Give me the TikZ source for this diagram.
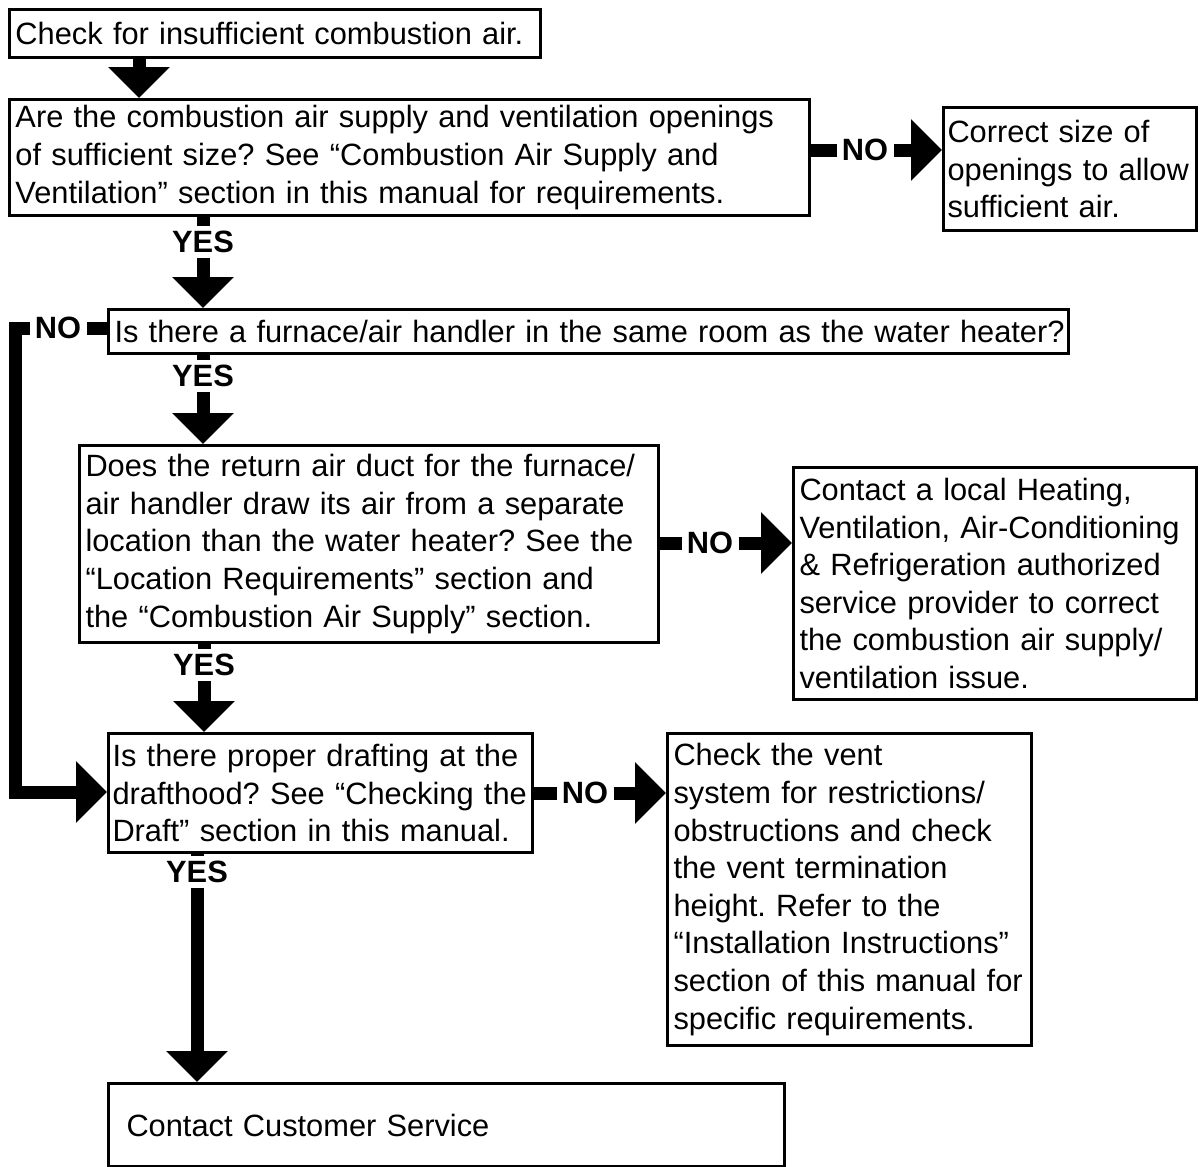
\documentclass[tikz,border=0pt]{standalone}
\usepackage{fontspec}
\setmainfont{Liberation Sans}
\frenchspacing
\hyphenpenalty=10000
\usetikzlibrary{arrows.meta}

\begin{document}
\begin{tikzpicture}[x=0.5pt,y=-0.5pt,>={Triangle[width=30pt,length=15.5pt]},
    box/.style={draw,line width=1.5pt,anchor=north west,align=left,inner xsep=3pt,inner ysep=1pt,
      font=\fontsize{15.4}{18.8}\selectfont},
    lbl/.style={font=\fontsize{15.4}{18.8}\selectfont\bfseries,inner sep=2.5pt},
    stub/.style={line width=6.5pt},
    flow/.style={line width=6.5pt,line join=miter,->}]
      \useasboundingbox (0,0) rectangle (1200,1167);
      \node [box,text width=259.5pt,minimum height=24pt] (b1) at (8,8)
            {Check for insufficient combustion air.};
      \node [box,text width=394pt,minimum height=58pt] (b2) at (8,98)
            {Are the combustion air supply and ventilation openings\\
             of sufficient size? See “Combustion Air Supply and\\
             Ventilation” section in this manual for requirements.};
      \node [box,inner xsep=2pt,text width=122.5pt,minimum height=61.5pt] (b3) at (942,106)
            {Correct size of\\ openings to allow\\ sufficient air.};
      \node [box,text width=474pt,minimum height=22pt] (b4) at (107,308)
            {\mbox{Is there a furnace/air handler in the same room as the water heater?}};
      \node [box,text width=283.5pt,minimum height=98.5pt] (b5) at (78,444)
            {Does the return air duct for the furnace/\\
             air handler draw its air from a separate\\
             location than the water heater? See the\\
             “Location Requirements” section and\\
             the “Combustion Air Supply” section.};
      \node [box,text width=195.5pt,minimum height=116pt] (b6) at (792,466)
            {Contact a local Heating,\\ Ventilation, Air-Conditioning\\
             \& Refrigeration authorized\\ service provider to correct\\
             the combustion air supply/\\ ventilation issue.};
      \node [box,inner xsep=2pt,text width=208pt,minimum height=59.5pt] (b7) at (107,732)
            {Is there proper drafting at the\\ drafthood? See “Checking the\\
             Draft” section in this manual.};
      \node [box,text width=176pt,minimum height=156pt] (b8) at (666,732)
            {Check the vent\\ system for restrictions/\\ obstructions and check\\
             the vent termination\\ height. Refer to the\\
             “Installation Instructions”\\ section of this manual for\\
             specific requirements.};
      \node [box,inner xsep=9pt,text width=320pt,minimum height=41.5pt] (b9) at (107,1082)
            {Contact Customer Service};

      \node [lbl] (yes1) at (203,242) {YES};
      \node [lbl] (yes2) at (203,376) {YES};
      \node [lbl] (yes3) at (204,665) {YES};
      \node [lbl] (yes4) at (197,872) {YES};
      \node [lbl] (no1) at (865,150) {NO};
      \node [lbl] (no2) at (710,543) {NO};
      \node [lbl] (no3) at (585,793) {NO};
      \node [lbl] (no4) at (58,328) {NO};
      \coordinate (c1) at (139,0);
      \coordinate (lp) at (15,792);

      \draw [flow] (b1.south -| c1) -- (b2.north -| c1);
      \draw [stub] (b2.south -| yes1) -- (yes1.north);
      \draw [flow] (yes1.south) -- (b4.north -| yes1);
      \draw [stub] (b4.south -| yes2) -- (yes2.north);
      \draw [flow] (yes2.south) -- (b5.north -| yes2);
      \draw [stub] (b5.south -| yes3) -- (yes3.north);
      \draw [flow] (yes3.south) -- (b7.north -| yes3);
      \draw [stub] (b7.south -| yes4) -- (yes4.north);
      \draw [flow] (yes4.south) -- (b9.north -| yes4);
      \draw [stub] (b2.east |- no1) -- (no1.west);
      \draw [flow] (no1.east) -- (b3.west |- no1);
      \draw [stub] (b5.east |- no2) -- (no2.west);
      \draw [flow] (no2.east) -- (b6.west |- no2);
      \draw [stub] (b7.east |- no3) -- (no3.west);
      \draw [flow] (no3.east) -- (b8.west |- no3);
      \draw [stub] (b4.west |- no4) -- (no4.east);
      \draw [flow] (no4.west) -| (lp) -- (b7.west |- lp);
    \end{tikzpicture}
\end{document}
